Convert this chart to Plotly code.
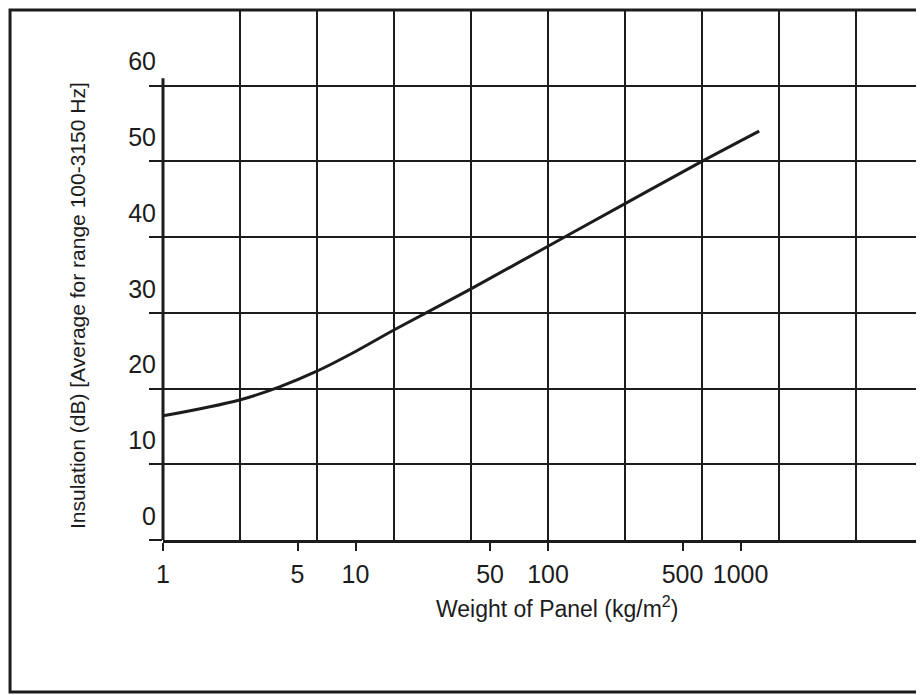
import plotly.graph_objects as go

# Data
weight = [1, 2.5, 4, 6.3, 10, 16, 40, 100, 250, 630, 1250]
insulation = [16.4, 18.5, 20.2, 22.3, 24.9, 27.8, 33.2, 38.8, 44.4, 50.0, 54.0]

x_tick_vals = [1, 5, 10, 50, 100, 500, 1000]
x_tick_text = ["1", "5", "10", "50", "100", "500", "1000"]
y_tick_vals = [0, 10, 20, 30, 40, 50, 60]
grid_x = [2.512, 6.310, 15.85, 39.81, 100, 251.2, 631.0, 1585, 3981]

INK = "#1c1c1c"
FONT = "Liberation Sans Narrow, Liberation Sans, Arial"

fig = go.Figure()
fig.add_trace(go.Scatter(x=weight, y=insulation, mode="lines",
                         line=dict(color=INK, width=3, shape="spline", smoothing=1.0),
                         showlegend=False, hoverinfo="skip"))
fig.add_trace(go.Scatter(x=weight, y=insulation, mode="lines", xaxis="x2",
                         line=dict(width=0), opacity=0, showlegend=False, hoverinfo="skip"))

fig.update_layout(
    width=916, height=687,
    margin=dict(l=155, r=0, t=2, b=155),
    paper_bgcolor="white", plot_bgcolor="white",
    font=dict(family=FONT, color=INK),
    xaxis=dict(type="log", range=[0, 3.953], tickmode="array", tickvals=grid_x,
               showticklabels=False, ticks="", showgrid=True, gridcolor=INK, gridwidth=2,
               zeroline=False, showline=False),
    xaxis2=dict(type="log", overlaying="x", matches="x", anchor="y", side="bottom",
                tickmode="array", tickvals=x_tick_vals, ticktext=x_tick_text,
                ticks="outside", ticklen=8, tickwidth=2, tickcolor=INK,
                showgrid=False, showline=True, linecolor=INK, linewidth=3,
                ticklabelstandoff=2,
                tickfont=dict(size=25, family=FONT, color=INK)),
    yaxis=dict(range=[0, 70], tickmode="array", tickvals=y_tick_vals,
               ticks="outside", ticklen=13, tickwidth=2, tickcolor=INK,
               showgrid=True, gridcolor=INK, gridwidth=2, zeroline=False, showline=False,
               ticklabelshift=-24, ticklabelstandoff=-12,
               tickfont=dict(size=25, family=FONT, color=INK)),
    annotations=[
        dict(text="Insulation (dB) [Average for range 100-3150 Hz]", textangle=-90,
             xref="paper", yref="paper", x=-0.1117, y=0.4434,
             xanchor="center", yanchor="middle", showarrow=False,
             font=dict(size=21, family=FONT, color=INK)),
        dict(text="Weight of Panel (kg/m<sup>2</sup>)",
             xref="paper", yref="paper", x=0.518, y=-0.126,
             xanchor="center", yanchor="middle", showarrow=False,
             font=dict(size=23, family=FONT, color=INK)),
    ],
    shapes=[
        dict(type="rect", xref="paper", yref="paper", x0=-0.201, x1=1.05, y0=-0.2868, y1=1.0,
             line=dict(color=INK, width=3), layer="above"),
        dict(type="line", xref="paper", yref="y", x0=0, x1=0, y0=0, y1=61,
             line=dict(color=INK, width=3), layer="above"),
    ],
)

fig.write_html("out.html")
